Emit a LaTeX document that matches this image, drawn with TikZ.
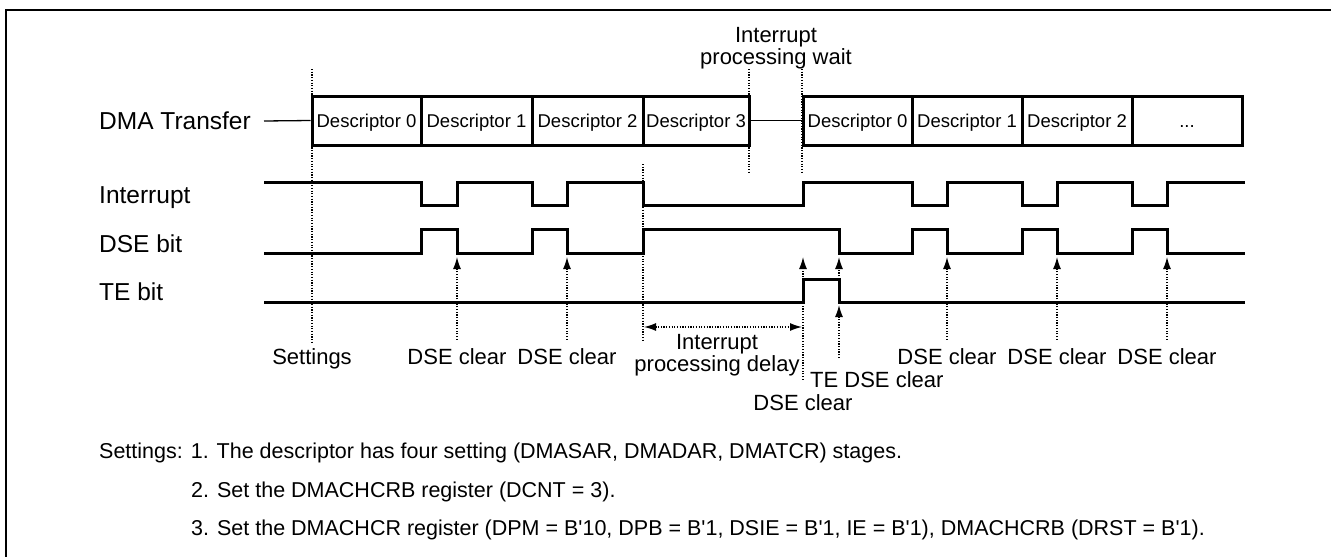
\documentclass[tikz,border=0pt]{standalone}
\usepackage{fontspec}
\setmainfont{Liberation Sans}
\usetikzlibrary{arrows.meta}

\begin{document}
\begin{tikzpicture}[x=1pt,y=-1pt,
        lbl/.style={font=\fontsize{22}{19}\selectfont,inner sep=0pt,
                    text height=16pt,text depth=5pt},
        lbltwo/.style={font=\fontsize{22}{19}\selectfont,inner sep=0pt,align=center},
        row/.style={font=\fontsize{24.5}{26}\selectfont,inner sep=0pt,anchor=base west},
        desc/.style={draw,line width=3pt,minimum height=49pt,inner sep=0pt,
                     font=\fontsize{18.5}{20}\selectfont,text height=13pt,text depth=0pt},
        sig/.style={line width=3pt},
        guide/.style={line width=1.3pt,dash pattern=on 1.2pt off 1.5pt},
        clr/.style={guide,-{Latex[length=12pt,width=8pt]}},
        note/.style={font=\fontsize{21.5}{24}\selectfont,inner sep=0pt,anchor=base west}
      ]
        \useasboundingbox (0,0) rectangle (1331,557);
        \draw[line width=2pt] (1331,10) -- (6,10) -- (6,557);

        \node[row] (dma) at (99,129) {DMA Transfer};
        \node[row] (irq) at (99,203) {Interrupt};
        \node[row] (dse) at (99,252) {DSE bit};
        \node[row] (te) at (99,300) {TE bit};

        \node[desc,minimum width=109pt] (d0) at (366.5,120.5) {Descriptor 0};
        \node[desc,minimum width=111pt] (d1) at (476.5,120.5) {Descriptor 1};
        \node[desc,minimum width=111pt] (d2) at (587.5,120.5) {Descriptor 2};
        \node[desc,minimum width=106pt] (d3) at (696,120.5) {Descriptor 3};
        \node[desc,minimum width=109pt] (e0) at (857.5,120.5) {Descriptor 0};
        \node[desc,minimum width=110pt] (e1) at (967,120.5) {Descriptor 1};
        \node[desc,minimum width=110pt] (e2) at (1077,120.5) {Descriptor 2};
        \node[desc,minimum width=110pt] (e3) at (1187,120.5) {...};
        \coordinate (dmaL) at (264,121);
        \draw[line width=1.3pt] (dmaL) -- (d0.west);
        \draw[line width=1.3pt] (d3.east) -- (e0.west);

        \draw[sig] (264,182) -| (421,205) -| (457,182) -| (532,205) -| (567,182)
          -| (643,205) -| (803,182) -| (912,205) -| (947,182) -| (1022,205)
          -| (1057,182) -| (1132,205) -| (1167,182) -- (1245,182);
        \draw[sig] (264,253) -| (421,229) -| (457,253) -| (532,229) -| (567,253)
          -| (643,229) -| (839,253) -| (912,229) -| (947,253) -| (1022,229)
          -| (1057,253) -| (1132,229) -| (1167,253) -- (1245,253);
        \draw[sig] (264,302) -| (803,279) -| (839,302) -- (1245,302);

        \node[lbltwo,anchor=north] (wait) at (776,27.3) {Interrupt\\processing wait};
        \node[lbltwo,anchor=north] (dly) at (717,334.3) {Interrupt\\processing delay};
        \node[lbl,anchor=base] (set) at (312,364) {Settings};
        \node[lbl,anchor=base] (c1) at (457,364) {DSE clear};
        \node[lbl,anchor=base] (c2) at (567,364) {DSE clear};
        \node[lbl,anchor=base] (c3) at (947,364) {DSE clear};
        \node[lbl,anchor=base] (c4) at (1057,364) {DSE clear};
        \node[lbl,anchor=base] (c5) at (1167,364) {DSE clear};
        \node[lbl,anchor=base west] (tec) at (810,387) {TE DSE clear};
        \node[lbl,anchor=base] (c0) at (803,410) {DSE clear};

        \draw[guide] (312,69) -- ([yshift=6pt]set.north);
        \draw[guide] (643,164) -- (643,340);
        \draw[guide] (749,69) -- (749,172);
        \draw[guide] (802,69) -- (802,172);
        \draw[guide,{Latex[length=12pt,width=8pt]}-{Latex[length=12pt,width=8pt]}]
          (644,327) -- (802,327);
        \foreach \n/\x in {c1/457,c2/567,c3/947,c4/1057,c5/1167}
          \draw[clr] ([yshift=8pt]\n.north) -- (\x,257);
        \draw[clr] ([yshift=14pt]c0.north) -- (803,257);
        \draw[clr] (839,358) -- (839,305);
        \draw[clr] (839,279) -- (839,257);

        \node[note] (n1) at (99,458) {Settings: 1. The descriptor has four setting (DMASAR, DMADAR, DMATCR) stages.};
        \node[note] (n2) at (191,497) {2. Set the DMACHCRB register (DCNT = 3).};
        \node[note] (n3) at (191,535) {3. Set the DMACHCR register (DPM = B\textquotesingle 10, DPB = B\textquotesingle 1, DSIE = B\textquotesingle 1, IE = B\textquotesingle 1), DMACHCRB (DRST = B\textquotesingle 1).};
      \end{tikzpicture}
\end{document}
